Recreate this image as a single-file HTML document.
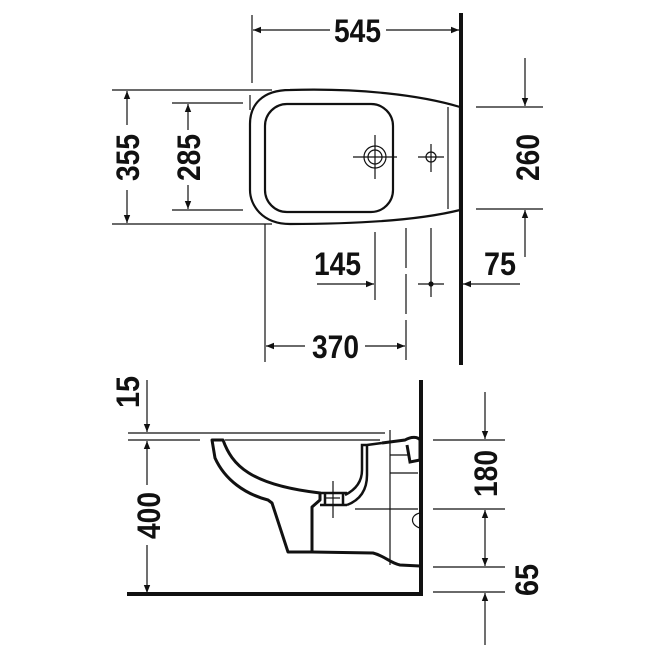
<!DOCTYPE html>
<html><head><meta charset="utf-8"><style>
html,body{margin:0;padding:0;background:#fff;width:650px;height:650px;overflow:hidden}
text{font-family:"Liberation Sans",sans-serif;font-weight:bold;font-size:32px;fill:#111}
</style></head><body>
<svg width="650" height="650" viewBox="0 0 650 650" xmlns="http://www.w3.org/2000/svg">
<defs>
<marker id="a" viewBox="0 0 10 10" refX="10" refY="5" markerWidth="12" markerHeight="8" markerUnits="userSpaceOnUse" orient="auto"><path d="M0,1 L10,5 L0,9 Z" fill="#111"/></marker>
</defs>
<g stroke="#111" fill="none" stroke-width="1.2">
<line x1="461" y1="13" x2="461" y2="365" stroke-width="4"/>
<line x1="252" y1="15" x2="252" y2="83"/>
<line x1="330" y1="30" x2="253" y2="30" marker-end="url(#a)"/>
<line x1="386" y1="30" x2="459" y2="30" marker-end="url(#a)"/>
<path d="M290,90 C360,88 420,95 460,107 L460,210 C420,220 360,224 290,224 C262,224 250,205 250,190 L250,124 C250,105 262,90 290,90 Z" stroke-width="2.2"/>
<rect x="265" y="104" width="128" height="108" rx="22" stroke-width="2.2"/>
<line x1="448" y1="107" x2="448" y2="209"/>
<circle cx="375" cy="157" r="11"/><circle cx="375" cy="157" r="7"/>
<line x1="353" y1="157" x2="397" y2="157"/><line x1="375" y1="135" x2="375" y2="179"/>
<circle cx="431" cy="157" r="5"/>
<line x1="418" y1="157" x2="444" y2="157"/><line x1="431" y1="144" x2="431" y2="172"/>
<line x1="112" y1="90" x2="272" y2="90"/><line x1="112" y1="224" x2="272" y2="224"/>
<line x1="127" y1="125" x2="127" y2="91" marker-end="url(#a)"/>
<line x1="127" y1="190" x2="127" y2="223" marker-end="url(#a)"/>
<line x1="172" y1="103" x2="243" y2="103"/><line x1="172" y1="210" x2="243" y2="210"/>
<line x1="188" y1="130" x2="188" y2="104" marker-end="url(#a)"/>
<line x1="188" y1="185" x2="188" y2="209" marker-end="url(#a)"/>
<line x1="250" y1="95" x2="250" y2="110"/>
<line x1="476" y1="107" x2="543" y2="107"/><line x1="476" y1="209" x2="543" y2="209"/>
<line x1="525" y1="58" x2="525" y2="106" marker-end="url(#a)"/>
<line x1="525" y1="257" x2="525" y2="210" marker-end="url(#a)"/>
<line x1="375" y1="232" x2="375" y2="300"/>
<line x1="317" y1="284" x2="374" y2="284" marker-end="url(#a)"/>
<line x1="406" y1="228" x2="406" y2="360" stroke-dasharray="40,6"/>
<line x1="431" y1="228" x2="431" y2="297"/>
<line x1="418" y1="284" x2="444" y2="284"/>
<circle cx="431" cy="284" r="2" fill="#111"/>
<line x1="520" y1="284" x2="463" y2="284" marker-end="url(#a)"/>
<line x1="265" y1="224" x2="265" y2="362"/>
<line x1="305" y1="346" x2="266" y2="346" marker-end="url(#a)"/>
<line x1="365" y1="346" x2="405" y2="346" marker-end="url(#a)"/>

<line x1="421" y1="380" x2="421" y2="596" stroke-width="4"/>
<line x1="127" y1="594" x2="423" y2="594" stroke-width="4"/>
<line x1="128" y1="433" x2="385" y2="433"/>
<line x1="128" y1="440" x2="200" y2="440"/>
<line x1="225" y1="440" x2="380" y2="440"/>
<line x1="147" y1="380" x2="147" y2="432" marker-end="url(#a)"/>
<line x1="147" y1="485" x2="147" y2="441" marker-end="url(#a)"/>
<line x1="147" y1="545" x2="147" y2="593" marker-end="url(#a)"/>
<path d="M212,440 L223,440 C232,465 250,485 320,493 L320,500 L312,507 L312,552 L288,552 L272,503 L268,500 C245,494 225,480 215,458 Z" stroke-width="3" stroke-linejoin="round"/>
<path d="M312,552 L373,553 C385,556 390,563 400,565 L420,566" stroke-width="3"/>
<path d="M320,493 L347,493 M325,493 L325,505 M343,493 L343,505 M320,505 L347,505" stroke-width="2.5"/>
<path d="M347,505 C360,500 367,490 367,475 L367,445 L382,443 M345,495 C355,490 362,482 362,470 L362,445 L367,445" stroke-width="2.5"/>
<path d="M382,443 L405,440 C412,436 418,437 420,440 L420,460 L410,462 L407,445" stroke-width="3"/>
<line x1="333" y1="481" x2="333" y2="518"/>
<line x1="325" y1="498" x2="340" y2="498"/>
<line x1="390" y1="430" x2="390" y2="565"/>
<line x1="355" y1="509" x2="418" y2="509"/>
<line x1="390" y1="473" x2="418" y2="473"/>
<line x1="390" y1="455" x2="410" y2="455"/>
<path d="M420,513 C410,515 410,525 420,528"/>
<line x1="433" y1="440" x2="505" y2="440"/><line x1="433" y1="509" x2="505" y2="509"/>
<line x1="433" y1="567" x2="505" y2="567"/><line x1="433" y1="592" x2="505" y2="592"/>
<line x1="485" y1="392" x2="485" y2="439" marker-end="url(#a)"/>
<line x1="485" y1="540" x2="485" y2="510" marker-end="url(#a)"/>
<line x1="485" y1="540" x2="485" y2="566" marker-end="url(#a)"/>
<line x1="485" y1="645" x2="485" y2="593" marker-end="url(#a)"/>
</g>
<g>
<rect x="330" y="14" width="56" height="32" fill="#fff"/>
<text x="334" y="42" textLength="47" lengthAdjust="spacingAndGlyphs">545</text>
<rect x="305" y="331" width="60" height="32" fill="#fff"/>
<text x="312" y="358" textLength="47" lengthAdjust="spacingAndGlyphs">370</text>
<text x="314" y="275" textLength="47" lengthAdjust="spacingAndGlyphs">145</text>
<text x="484" y="275" textLength="32" lengthAdjust="spacingAndGlyphs">75</text>
<text transform="translate(139,181) rotate(-90)" textLength="47" lengthAdjust="spacingAndGlyphs">355</text>
<text transform="translate(200,181) rotate(-90)" textLength="47" lengthAdjust="spacingAndGlyphs">285</text>
<text transform="translate(539,181) rotate(-90)" textLength="47" lengthAdjust="spacingAndGlyphs">260</text>
<text transform="translate(139,408) rotate(-90)" textLength="32" lengthAdjust="spacingAndGlyphs">15</text>
<text transform="translate(160,539) rotate(-90)" textLength="47" lengthAdjust="spacingAndGlyphs">400</text>
<text transform="translate(497,497) rotate(-90)" textLength="47" lengthAdjust="spacingAndGlyphs">180</text>
<text transform="translate(538,596) rotate(-90)" textLength="32" lengthAdjust="spacingAndGlyphs">65</text>
</g>
</svg>
</body></html>
